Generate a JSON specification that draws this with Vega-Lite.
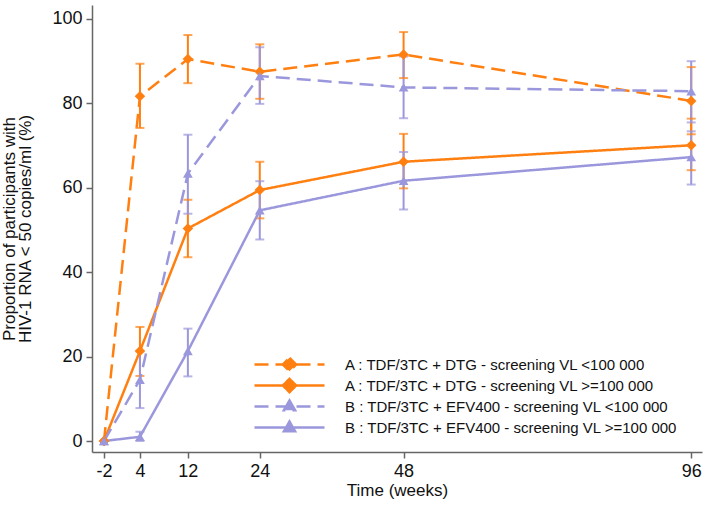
{
  "$schema": "https://vega.github.io/schema/vega-lite/v6.json",
  "width": 610,
  "height": 447,
  "autosize": {"type": "none"},
  "padding": {"left": 92, "top": 5, "right": 7, "bottom": 55},
  "background": "white",
  "config": {
    "view": {"stroke": null},
    "font": "Liberation Sans",
    "axis": {
      "domainColor": "#666666",
      "domainWidth": 1.5,
      "tickColor": "#666666",
      "tickWidth": 1.5,
      "tickSize": 6,
      "labelColor": "#111111",
      "labelFontSize": 18,
      "labelFont": "Liberation Sans",
      "titleFont": "Liberation Sans",
      "titleFontSize": 17,
      "titleFontWeight": "normal",
      "titleColor": "#111111",
      "grid": false
    }
  },
  "data": {
    "values": [
      {"series": "A : TDF/3TC + DTG - screening VL <100 000", "week": -2, "v": 0, "lo": null, "hi": null},
      {"series": "A : TDF/3TC + DTG - screening VL <100 000", "week": 4, "v": 81.6, "lo": 74.1, "hi": 89.3},
      {"series": "A : TDF/3TC + DTG - screening VL <100 000", "week": 12, "v": 90.4, "lo": 84.7, "hi": 96.1},
      {"series": "A : TDF/3TC + DTG - screening VL <100 000", "week": 24, "v": 87.4, "lo": 81.0, "hi": 93.9},
      {"series": "A : TDF/3TC + DTG - screening VL <100 000", "week": 48, "v": 91.5, "lo": 85.9, "hi": 96.8},
      {"series": "A : TDF/3TC + DTG - screening VL <100 000", "week": 96, "v": 80.5, "lo": 72.6, "hi": 88.5},
      {"series": "A : TDF/3TC + DTG - screening VL >=100 000", "week": -2, "v": 0, "lo": null, "hi": null},
      {"series": "A : TDF/3TC + DTG - screening VL >=100 000", "week": 4, "v": 21.3, "lo": 15.4, "hi": 27.0},
      {"series": "A : TDF/3TC + DTG - screening VL >=100 000", "week": 12, "v": 50.3, "lo": 43.5, "hi": 57.1},
      {"series": "A : TDF/3TC + DTG - screening VL >=100 000", "week": 24, "v": 59.4, "lo": 52.7, "hi": 66.1},
      {"series": "A : TDF/3TC + DTG - screening VL >=100 000", "week": 48, "v": 66.1, "lo": 59.8, "hi": 72.7},
      {"series": "A : TDF/3TC + DTG - screening VL >=100 000", "week": 96, "v": 70.0, "lo": 64.1, "hi": 76.3},
      {"series": "B : TDF/3TC + EFV400 - screening VL <100 000", "week": -2, "v": 0, "lo": null, "hi": null},
      {"series": "B : TDF/3TC + EFV400 - screening VL <100 000", "week": 4, "v": 14.5, "lo": 7.8, "hi": 21.2},
      {"series": "B : TDF/3TC + EFV400 - screening VL <100 000", "week": 12, "v": 63.3, "lo": 53.8, "hi": 72.5},
      {"series": "B : TDF/3TC + EFV400 - screening VL <100 000", "week": 24, "v": 86.4, "lo": 79.8, "hi": 93.2},
      {"series": "B : TDF/3TC + EFV400 - screening VL <100 000", "week": 48, "v": 83.7, "lo": 76.4, "hi": 91.0},
      {"series": "B : TDF/3TC + EFV400 - screening VL <100 000", "week": 96, "v": 82.8, "lo": 75.4, "hi": 89.9},
      {"series": "B : TDF/3TC + EFV400 - screening VL >=100 000", "week": -2, "v": 0, "lo": null, "hi": null},
      {"series": "B : TDF/3TC + EFV400 - screening VL >=100 000", "week": 4, "v": 1.0, "lo": 0, "hi": 2.2},
      {"series": "B : TDF/3TC + EFV400 - screening VL >=100 000", "week": 12, "v": 21.3, "lo": 15.3, "hi": 26.6},
      {"series": "B : TDF/3TC + EFV400 - screening VL >=100 000", "week": 24, "v": 54.6, "lo": 47.7, "hi": 61.5},
      {"series": "B : TDF/3TC + EFV400 - screening VL >=100 000", "week": 48, "v": 61.6, "lo": 54.8, "hi": 68.4},
      {"series": "B : TDF/3TC + EFV400 - screening VL >=100 000", "week": 96, "v": 67.2, "lo": 60.7, "hi": 73.3}
    ]
  },
  "encoding": {
    "x": {
      "field": "week",
      "type": "quantitative",
      "scale": {"domain": [-4, 97.8], "nice": false, "zero": false},
      "axis": {"values": [-2, 4, 12, 24, 48, 96], "labelExpr": "'' + datum.value", "title": "Time (weeks)", "titlePadding": 2, "labelPadding": 4}
    },
    "color": {
      "field": "series",
      "type": "nominal",
      "scale": {
        "domain": [
          "A : TDF/3TC + DTG - screening VL <100 000",
          "A : TDF/3TC + DTG - screening VL >=100 000",
          "B : TDF/3TC + EFV400 - screening VL <100 000",
          "B : TDF/3TC + EFV400 - screening VL >=100 000"
        ],
        "range": ["#ff7f10", "#ff7f10", "#9b97dc", "#9b97dc"]
      },
      "legend": {
        "title": null,
        "orient": "none",
        "legendX": 161,
        "legendY": 351,
        "padding": 0,
        "symbolSize": 4900,
        "symbolStrokeWidth": 2.5,
        "symbolOffset": 0,
        "labelOffset": 19,
        "labelFontSize": 15,
        "labelFont": "Liberation Sans",
        "labelColor": "#111111",
        "labelLimit": 500,
        "clipHeight": 17,
        "rowPadding": 4,
        "encode": {
          "symbols": {
            "update": {
              "fill": {"signal": "indexof(datum.value, 'A :') == 0 ? '#ff7f10' : '#9b97dc'"},
              "stroke": {"signal": "indexof(datum.value, 'A :') == 0 ? '#ff7f10' : '#9b97dc'"},
              "strokeDash": {"signal": "indexof(datum.value, '<100') >= 0 ? [14, 7] : [1, 0]"},
              "strokeWidth": {"value": 2.5},
              "opacity": {"value": 1}
            }
          }
        }
      }
    }
  },
  "layer": [
    {
      "mark": {"type": "rule", "strokeWidth": 2},
      "encoding": {
        "y": {"field": "lo", "type": "quantitative"},
        "y2": {"field": "hi"}
      }
    },
    {
      "mark": {"type": "tick", "orient": "horizontal", "size": 9, "thickness": 2},
      "encoding": {"y": {"field": "lo", "type": "quantitative"}}
    },
    {
      "mark": {"type": "tick", "orient": "horizontal", "size": 9, "thickness": 2},
      "encoding": {"y": {"field": "hi", "type": "quantitative"}}
    },
    {
      "mark": {"type": "line", "strokeWidth": 2.5},
      "encoding": {
        "y": {
          "field": "v",
          "type": "quantitative",
          "scale": {"domain": [-2.6, 103.2], "nice": false, "zero": false},
          "axis": {
            "values": [0, 20, 40, 60, 80, 100],
            "title": ["Proportion of participants with", "HIV-1 RNA < 50 copies/ml (%)"],
            "titlePadding": 17,
            "titleLineHeight": 16,
            "labelPadding": 4
          }
        },
        "strokeDash": {
          "field": "series",
          "type": "nominal",
          "scale": {
            "domain": [
              "A : TDF/3TC + DTG - screening VL <100 000",
              "A : TDF/3TC + DTG - screening VL >=100 000",
              "B : TDF/3TC + EFV400 - screening VL <100 000",
              "B : TDF/3TC + EFV400 - screening VL >=100 000"
            ],
            "range": [[14, 7], [1, 0], [14, 7], [1, 0]]
          },
          "legend": null
        }
      }
    },
    {
      "transform": [{"filter": {"field": "series", "oneOf": ["A : TDF/3TC + DTG - screening VL <100 000", "A : TDF/3TC + DTG - screening VL >=100 000"]}}],
      "mark": {"type": "point", "filled": true, "opacity": 1, "size": 110, "shape": "diamond"},
      "encoding": {"y": {"field": "v", "type": "quantitative"}}
    },
    {
      "transform": [{"filter": {"field": "series", "oneOf": ["B : TDF/3TC + EFV400 - screening VL <100 000", "B : TDF/3TC + EFV400 - screening VL >=100 000"]}}],
      "mark": {"type": "point", "filled": true, "opacity": 1, "size": 95, "shape": "triangle-up"},
      "encoding": {"y": {"field": "v", "type": "quantitative"}}
    },
    {
      "transform": [{"filter": "datum.week > 1000"}],
      "mark": {"type": "point", "filled": true, "opacity": 1},
      "encoding": {
        "y": {"field": "v", "type": "quantitative"},
        "shape": {
          "field": "series",
          "type": "nominal",
          "scale": {
            "domain": [
              "A : TDF/3TC + DTG - screening VL <100 000",
              "A : TDF/3TC + DTG - screening VL >=100 000",
              "B : TDF/3TC + EFV400 - screening VL <100 000",
              "B : TDF/3TC + EFV400 - screening VL >=100 000"
            ],
            "range": [
              "M-1,0L1,0M0,-0.19L0.19,0L0,0.19L-0.19,0Z",
              "M-1,0L1,0M0,-0.19L0.19,0L0,0.19L-0.19,0Z",
              "M-1,0L1,0M0,-0.17L0.16,0.11L-0.16,0.11Z",
              "M-1,0L1,0M0,-0.17L0.16,0.11L-0.16,0.11Z"
            ]
          },
          "legend": null
        }
      }
    }
  ]
}
